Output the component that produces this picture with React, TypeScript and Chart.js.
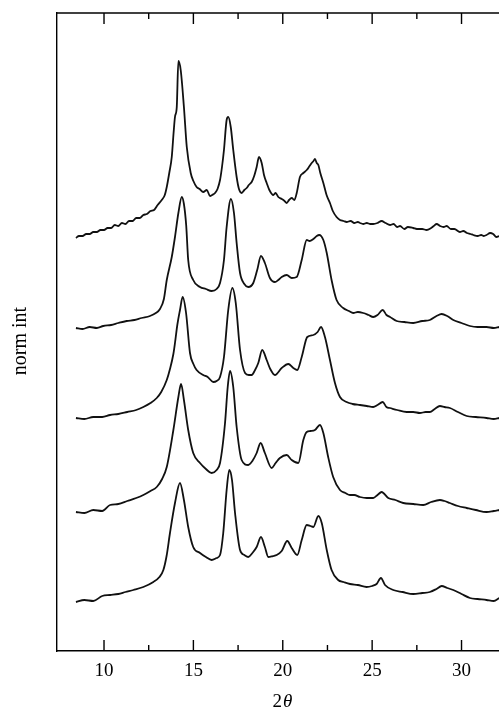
import React, { useEffect, useRef } from "react";
import { Chart, registerables } from "chart.js";

Chart.register(...registerables);

// 2θ tick values
const majorTicks = [10, 15, 20, 25, 30];
const minorTicks = [12.5, 17.5, 22.5, 27.5, 32.5];

const xTitle = "2θ";
const yTitle = "norm int";

// Pattern 1 (top)
const p1X = [8.43, 8.6, 8.8, 9.0, 9.2, 9.4, 9.6, 9.8, 10.0, 10.2, 10.4, 10.6, 10.8, 11.0, 11.2, 11.4, 11.6, 11.8, 12.0, 12.2, 12.4, 12.6, 12.8, 13.0, 13.23, 13.4, 13.51, 13.65, 13.79, 13.9, 13.97, 14.07, 14.16, 14.29, 14.47, 14.63, 14.85, 15.0, 15.18, 15.35, 15.55, 15.75, 15.93, 16.05, 16.21, 16.35, 16.49, 16.6, 16.71, 16.86, 16.95, 17.09, 17.23, 17.42, 17.55, 17.7, 17.85, 17.98, 18.1, 18.26, 18.4, 18.54, 18.67, 18.82, 18.95, 19.1, 19.25, 19.47, 19.6, 19.75, 19.94, 20.1, 20.22, 20.35, 20.5, 20.65, 20.78, 20.96, 21.15, 21.34, 21.5, 21.62, 21.72, 21.8, 21.9, 21.99, 22.1, 22.27, 22.45, 22.64, 22.8, 23.01, 23.2, 23.4, 23.57, 23.8, 24.0, 24.2, 24.32, 24.5, 24.7, 24.9, 25.06, 25.3, 25.53, 25.75, 26.0, 26.2, 26.4, 26.56, 26.8, 27.0, 27.3, 27.5, 27.8, 28.05, 28.3, 28.45, 28.61, 28.8, 29.0, 29.17, 29.4, 29.6, 29.91, 30.1, 30.3, 30.5, 30.66, 30.9, 31.1, 31.25, 31.4, 31.6, 31.77, 31.95, 32.11];
const p1Y = [413, 415, 415, 417, 417, 419, 419, 421, 421, 423, 423, 426, 425, 428, 427, 430, 430, 433, 433, 436, 437, 440, 441, 446, 451, 456, 464, 478, 494, 520, 534, 544, 590, 581, 544, 504, 478, 470, 464, 462, 459, 461, 455, 456, 458, 462, 471, 484, 501, 531, 534, 524, 501, 474, 462, 458, 461, 463, 466, 469, 475, 484, 494, 488, 476, 468, 461, 456, 458, 454, 452, 450, 448, 451, 453, 451, 458, 474, 478, 481, 485, 488, 490, 492, 488, 486, 478, 468, 456, 448, 440, 434, 431, 430, 429, 430, 428, 429, 428, 427, 428, 427, 427, 428, 430, 428, 426, 427, 424, 425, 422, 424, 423, 422, 422, 421, 423, 425, 427, 425, 424, 425, 422, 422, 419, 420, 418, 417, 416, 415, 416, 415, 416, 418, 417, 414, 415];

// Pattern 2
const p2X = [8.43, 8.8, 9.2, 9.6, 9.96, 10.4, 10.8, 11.27, 11.7, 12.1, 12.57, 12.9, 13.13, 13.35, 13.51, 13.79, 13.97, 14.16, 14.35, 14.47, 14.6, 14.71, 14.99, 15.37, 15.7, 16.02, 16.3, 16.49, 16.71, 16.86, 17.1, 17.27, 17.42, 17.61, 17.85, 18.07, 18.35, 18.57, 18.78, 19.0, 19.28, 19.56, 19.75, 19.94, 20.22, 20.5, 20.78, 21.06, 21.34, 21.5, 21.71, 21.9, 22.04, 22.27, 22.46, 22.73, 23.01, 23.38, 23.7, 23.94, 24.2, 24.5, 24.8, 25.06, 25.3, 25.59, 25.8, 26.0, 26.37, 26.8, 27.3, 27.8, 28.23, 28.6, 28.89, 29.2, 29.54, 30.0, 30.47, 30.9, 31.4, 31.8, 32.11];
const p2Y = [323, 322, 324, 323, 325, 326, 328, 330, 331, 333, 335, 338, 342, 352, 371, 394, 414, 438, 454, 447, 425, 391, 371, 364, 362, 360, 362, 368, 391, 424, 452, 438, 408, 378, 367, 364, 368, 381, 395, 388, 373, 369, 371, 374, 376, 373, 374, 391, 411, 410, 412, 415, 416, 411, 398, 371, 351, 343, 340, 338, 339, 338, 336, 334, 336, 341, 336, 334, 330, 329, 328, 330, 331, 335, 337, 335, 331, 328, 325, 324, 324, 323, 324];

// Pattern 3
const p3X = [8.43, 8.9, 9.4, 9.9, 10.34, 10.8, 11.3, 11.8, 12.2, 12.6, 12.95, 13.2, 13.51, 13.69, 13.88, 13.97, 14.1, 14.25, 14.4, 14.59, 14.81, 15.0, 15.18, 15.55, 15.8, 16.11, 16.3, 16.49, 16.71, 16.95, 17.18, 17.37, 17.61, 17.89, 18.1, 18.26, 18.45, 18.63, 18.85, 19.1, 19.3, 19.56, 19.94, 20.31, 20.59, 20.81, 21.06, 21.37, 21.71, 21.95, 22.14, 22.36, 22.64, 22.92, 23.2, 23.57, 23.9, 24.32, 24.7, 25.06, 25.3, 25.59, 25.8, 26.0, 26.4, 26.93, 27.3, 27.67, 28.0, 28.23, 28.5, 28.79, 29.05, 29.35, 29.8, 30.29, 30.8, 31.4, 31.8, 32.11];
const p3Y = [233, 232, 234, 234, 236, 237, 239, 241, 244, 248, 253, 259, 271, 282, 297, 308, 326, 341, 354, 338, 298, 287, 281, 276, 274, 269, 270, 274, 294, 341, 363, 348, 301, 278, 276, 276, 281, 288, 301, 291, 282, 276, 283, 287, 283, 281, 294, 314, 316, 319, 324, 314, 291, 268, 254, 249, 247, 246, 245, 244, 246, 249, 244, 243, 241, 239, 239, 238, 239, 239, 242, 245, 244, 243, 239, 235, 234, 233, 232, 233];

// Pattern 4
const p4X = [8.43, 8.9, 9.4, 9.9, 10.34, 10.8, 11.3, 11.8, 12.2, 12.6, 12.95, 13.25, 13.51, 13.88, 14.16, 14.31, 14.47, 14.71, 14.99, 15.37, 15.7, 16.02, 16.3, 16.49, 16.77, 16.92, 17.05, 17.23, 17.42, 17.7, 18.07, 18.3, 18.54, 18.76, 19.0, 19.38, 19.6, 19.84, 20.22, 20.5, 20.87, 21.15, 21.34, 21.55, 21.8, 22.08, 22.27, 22.54, 22.82, 23.2, 23.5, 23.76, 24.0, 24.32, 24.7, 25.06, 25.3, 25.53, 25.9, 26.3, 26.74, 27.3, 27.86, 28.3, 28.79, 29.05, 29.35, 29.8, 30.29, 30.8, 31.4, 31.8, 32.11];
const p4Y = [139, 138, 141, 140, 146, 147, 150, 153, 156, 160, 164, 172, 184, 221, 254, 267, 251, 221, 198, 188, 182, 178, 181, 188, 228, 264, 280, 264, 224, 191, 186, 190, 198, 208, 198, 183, 188, 193, 196, 191, 188, 211, 219, 220, 221, 226, 218, 194, 174, 161, 158, 156, 156, 154, 153, 153, 156, 159, 153, 151, 148, 147, 146, 149, 151, 150, 148, 145, 143, 141, 139, 140, 141];

// Pattern 5 (bottom)
const p5X = [8.43, 8.9, 9.4, 9.9, 10.34, 10.8, 11.2, 11.64, 12.2, 12.76, 13.1, 13.32, 13.5, 13.69, 13.97, 14.25, 14.47, 14.71, 14.99, 15.37, 15.7, 16.02, 16.3, 16.49, 16.67, 16.86, 17.01, 17.16, 17.33, 17.61, 17.85, 18.07, 18.3, 18.54, 18.78, 19.0, 19.19, 19.45, 19.66, 19.94, 20.25, 20.5, 20.81, 21.06, 21.34, 21.55, 21.71, 21.99, 22.18, 22.46, 22.73, 23.1, 23.4, 23.76, 24.2, 24.69, 25.0, 25.25, 25.49, 25.72, 26.18, 26.7, 27.3, 27.8, 28.23, 28.6, 28.89, 29.2, 29.54, 30.0, 30.47, 30.9, 31.4, 31.8, 32.11];
const p5Y = [49, 51, 50, 55, 56, 57, 59, 61, 64, 69, 74, 81, 95, 118, 148, 168, 151, 124, 104, 98, 94, 91, 93, 96, 118, 161, 181, 171, 138, 101, 96, 94, 98, 104, 114, 104, 94, 95, 96, 100, 110, 103, 96, 111, 126, 125, 124, 135, 128, 101, 81, 71, 69, 67, 66, 64, 65, 67, 73, 66, 61, 59, 57, 58, 59, 62, 65, 63, 61, 57, 53, 52, 51, 50, 53];

const patternsX = [p1X, p2X, p3X, p4X, p5X];
const patternsY = [p1Y, p2Y, p3Y, p4Y, p5Y];

const SERIF = "'Liberation Serif', 'DejaVu Serif', 'Times New Roman', serif";

const frameTicks = {
  id: "frameTicks",
  afterDraw(chart: any) {
    const { ctx, chartArea } = chart;
    const { left, right, top, bottom } = chartArea;
    const x = chart.scales.x;
    ctx.save();
    ctx.strokeStyle = "#000";
    ctx.lineWidth = 1.4;
    ctx.beginPath();
    ctx.moveTo(left, top);
    ctx.lineTo(right, top);
    ctx.stroke();
    const drawTick = (v: number, len: number) => {
      const p = x.getPixelForValue(v);
      if (p < left || p > right) return;
      ctx.beginPath();
      ctx.moveTo(p, bottom);
      ctx.lineTo(p, bottom - len);
      ctx.moveTo(p, top);
      ctx.lineTo(p, top + len);
      ctx.stroke();
    };
    majorTicks.forEach((v) => drawTick(v, 11));
    minorTicks.forEach((v) => drawTick(v, 6));

    // axis titles
    ctx.fillStyle = "#000";
    ctx.textBaseline = "middle";
    // y title, rotated
    ctx.save();
    ctx.translate(21, (top + bottom) / 2 + 9);
    ctx.rotate(-Math.PI / 2);
    ctx.textAlign = "center";
    ctx.font = "20px " + SERIF;
    ctx.fillText(yTitle, 0, 0);
    ctx.restore();
    // x title: upright "2", italic theta
    const cx = (left + right) / 2;
    const cy = bottom + 51;
    ctx.font = "19px " + SERIF;
    const a = xTitle.slice(0, 1);
    const b = xTitle.slice(1);
    const wa = ctx.measureText(a).width;
    ctx.font = "italic 19px " + SERIF;
    const wb = ctx.measureText(b).width;
    const start = cx - (wa + wb + 1) / 2;
    ctx.textAlign = "left";
    ctx.font = "19px " + SERIF;
    ctx.fillText(a, start, cy);
    ctx.font = "italic 19px " + SERIF;
    ctx.fillText(b, start + wa + 1, cy);
    ctx.restore();
  },
};

export default function App() {
  const ref = useRef<HTMLCanvasElement | null>(null);
  useEffect(() => {
    if (!ref.current) return;
    const datasets = patternsX.map((xs, i) => ({
      label: "pattern " + (i + 1),
      data: xs.map((xv, j) => ({ x: xv, y: patternsY[i][j] })),
      borderColor: "#111",
      borderWidth: 1.8,
      pointRadius: 0,
      fill: false,
      cubicInterpolationMode: "monotone" as const,
    }));
    const chart = new Chart(ref.current, {
      type: "line",
      data: { datasets },
      plugins: [frameTicks],
      options: {
        responsive: false,
        animation: false,
        devicePixelRatio: 1,
        layout: { padding: { top: 13, right: 2, left: 0, bottom: 0 } },
        plugins: { legend: { display: false }, tooltip: { enabled: false } },
        scales: {
          x: {
            type: "linear",
            min: 7.37,
            max: 32.6,
            afterBuildTicks: (scale: any) => {
              scale.ticks = majorTicks.map((v) => ({ value: v }));
            },
            afterFit: (scale: any) => {
              scale.height = 64;
            },
            grid: { display: false, drawTicks: false, tickLength: 0 },
            border: { display: true, color: "#000", width: 1.4 },
            ticks: {
              color: "#000",
              padding: 9,
              maxRotation: 0,
              autoSkip: false,
              font: { family: SERIF, size: 19 },
              callback: (v: any) => String(v),
            },
            title: { display: false },
          },
          y: {
            type: "linear",
            min: 0,
            max: 638,
            afterFit: (scale: any) => {
              scale.width = 57;
            },
            grid: { display: false, drawTicks: false, tickLength: 0 },
            border: { display: true, color: "#000", width: 1.4 },
            ticks: { display: false },
            title: { display: false },
          },
        },
      },
    });
    return () => chart.destroy();
  }, []);
  return (
    <div
      style={{
        position: "absolute",
        left: 0,
        top: 0,
        width: 499,
        height: 715,
        overflow: "hidden",
        background: "#fff",
      }}
    >
      <canvas ref={ref} width={510} height={715} style={{ width: 510, height: 715, display: "block" }} />
    </div>
  );
}
